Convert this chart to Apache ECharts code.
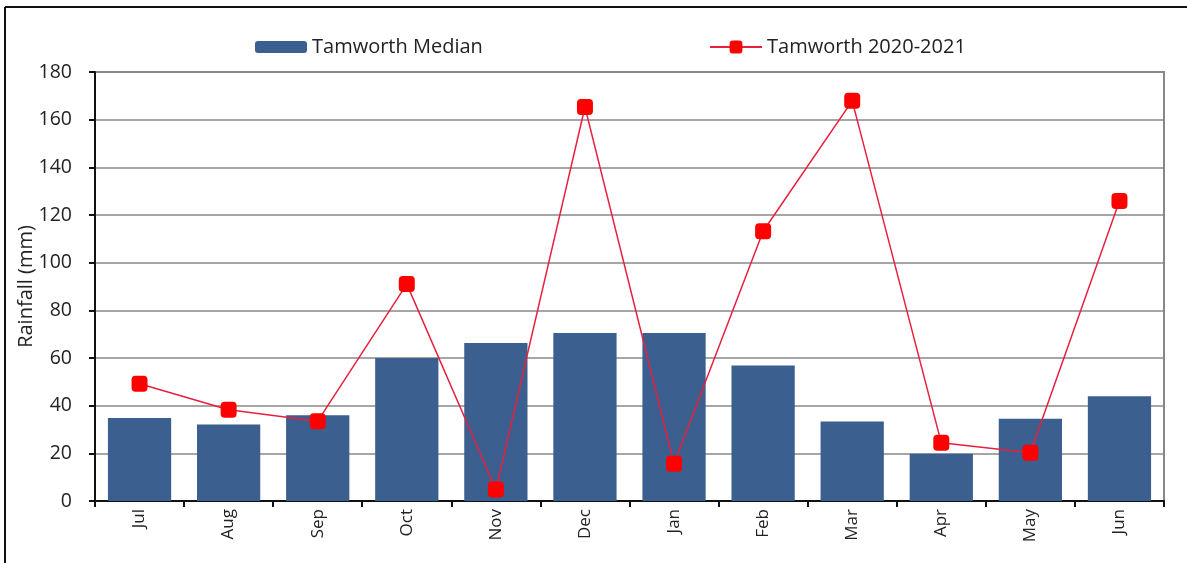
<!DOCTYPE html>
<html>
<head>
<meta charset="utf-8">
<script src="https://cdn.jsdelivr.net/npm/echarts@6/dist/echarts.min.js"></script>
<style>
html,body{margin:0;padding:0;background:#fff;}
#chart{width:1187px;height:563px;}
</style>
</head>
<body>
<div id="chart"></div>
<script>
const months = ['Jul','Aug','Sep','Oct','Nov','Dec','Jan','Feb','Mar','Apr','May','Jun'];
const medianValues = [34.8, 32.1, 36.0, 60.0, 66.3, 70.5, 70.5, 56.9, 33.4, 19.8, 34.5, 43.9];
const seasonValues = [49.2, 38.3, 33.5, 91.0, 4.8, 165.3, 15.6, 113.2, 167.9, 24.4, 20.2, 125.9];
const yTicks = [0, 20, 40, 60, 80, 100, 120, 140, 160, 180];

const FONT = 'Open Sans';
const chart = echarts.init(document.getElementById('chart'), null, {renderer: 'canvas'});
chart.setOption({
  animation: false,
  backgroundColor: '#fff',
  textStyle: {fontFamily: FONT},
  graphic: [
    {type: 'line', shape: {x1: 5, y1: 7, x2: 1187, y2: 7}, style: {stroke: '#111', lineWidth: 2}},
    {type: 'line', shape: {x1: 5, y1: 7, x2: 5, y2: 563}, style: {stroke: '#111', lineWidth: 2}}
  ],
  legend: [
    {
      data: ['Tamworth Median'], left: 250, top: 32,
      itemWidth: 52, itemHeight: 12, itemGap: 0,
      textStyle: {fontFamily: FONT, fontSize: 20, color: '#222'}
    },
    {
      data: ['Tamworth 2020-2021'], left: 704, top: 32,
      itemWidth: 52, itemHeight: 16, itemGap: 0,
      textStyle: {fontFamily: FONT, fontSize: 20, color: '#222'}
    }
  ],
  grid: {left: 95, top: 72, right: 23, bottom: 62, show: true, borderColor: '#888', borderWidth: 2, containLabel: false},
  xAxis: {
    type: 'category',
    data: months,
    boundaryGap: true,
    axisLine: {lineStyle: {color: '#111', width: 2}},
    axisTick: {show: true, length: 6, alignWithLabel: false, lineStyle: {color: '#111', width: 2}},
    axisLabel: {rotate: 90, margin: 8, fontSize: 17, color: '#222', fontFamily: FONT}
  },
  yAxis: {
    type: 'value', min: 0, max: 180, interval: 20,
    name: 'Rainfall (mm)', nameLocation: 'middle', nameGap: 59, nameRotate: 90,
    nameMoveOverlap: false,
    nameTextStyle: {fontFamily: FONT, fontSize: 20, color: '#222'},
    axisLine: {show: true, lineStyle: {color: '#111', width: 2}},
    axisTick: {show: true, length: 6, lineStyle: {color: '#111', width: 2}},
    axisLabel: {margin: 23, fontSize: 19.5, color: '#222', fontFamily: FONT,
      formatter: v => yTicks.includes(v) ? String(v) : ''},
    splitLine: {show: true, lineStyle: {color: '#888', width: 1.5}}
  },
  series: [
    {
      name: 'Tamworth Median', type: 'bar', data: medianValues,
      barWidth: '71%',
      itemStyle: {color: '#3B5F8E'}
    },
    {
      name: 'Tamworth 2020-2021', type: 'line', data: seasonValues,
      symbol: 'roundRect', symbolSize: 16,
      lineStyle: {color: '#E8203F', width: 1.5},
      itemStyle: {color: '#FF0000', borderWidth: 0}
    }
  ]
});
</script>
</body>
</html>
